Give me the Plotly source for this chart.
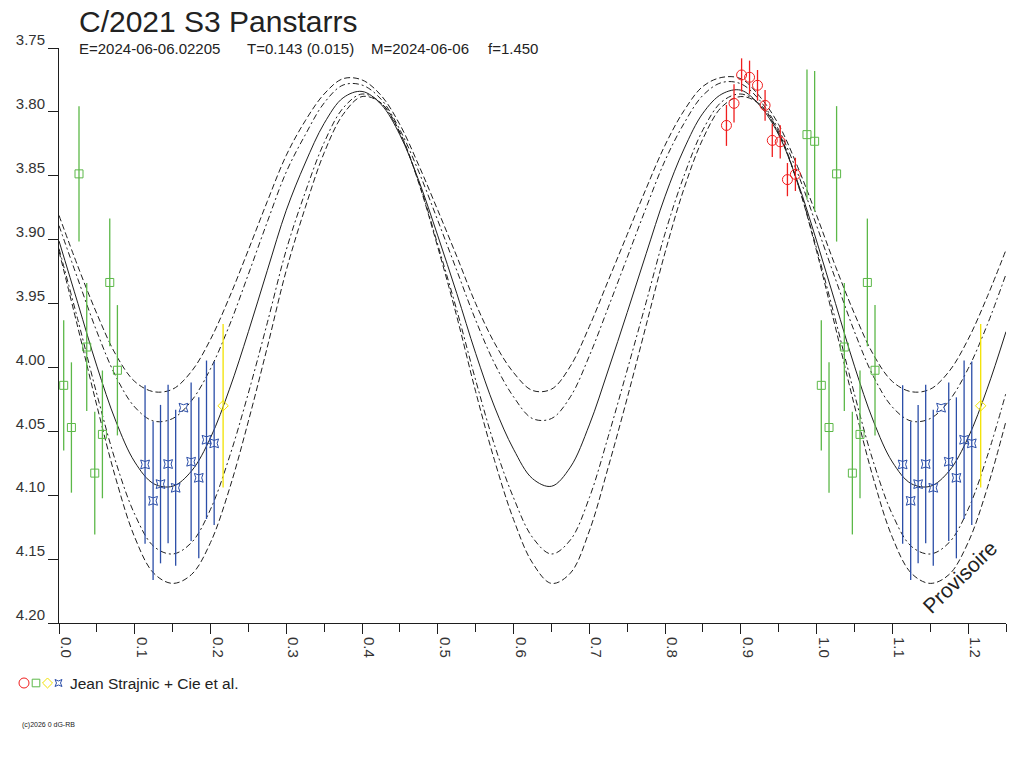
import plotly.graph_objects as go

# ---------------------------------------------------------------------------
# data (phase, magnitude)
# ---------------------------------------------------------------------------

PHASE = [0.000, 0.025, 0.050, 0.075, 0.100, 0.125, 0.150, 0.175, 0.200, 0.225,
         0.250, 0.275, 0.300, 0.325, 0.350, 0.375, 0.400, 0.425, 0.450, 0.475,
         0.500, 0.525, 0.550, 0.575, 0.600, 0.625, 0.650, 0.675, 0.700, 0.725,
         0.750, 0.775, 0.800, 0.825, 0.850, 0.875, 0.900, 0.925, 0.950, 0.975,
         1.000]

FIT = [3.901, 3.950, 3.999, 4.042, 4.074, 4.091, 4.093, 4.081, 4.055, 4.017,
       3.972, 3.924, 3.877, 3.840, 3.809, 3.789, 3.784, 3.794, 3.818, 3.854,
       3.897, 3.942, 3.989, 4.031, 4.064, 4.087, 4.093, 4.078, 4.045, 4.002,
       3.957, 3.911, 3.866, 3.829, 3.801, 3.786, 3.783, 3.795, 3.818, 3.855,
       3.901]

# 1-sigma band (dash-dot)
FIT_HI1 = [3.889, 3.931, 3.972, 4.007, 4.031, 4.042, 4.040, 4.026, 4.001, 3.967,
           3.927, 3.886, 3.847, 3.818, 3.793, 3.779, 3.779, 3.790, 3.814, 3.847,
           3.885, 3.924, 3.963, 3.997, 4.023, 4.040, 4.040, 4.023, 3.991, 3.953,
           3.914, 3.875, 3.838, 3.809, 3.787, 3.777, 3.778, 3.791, 3.814, 3.848,
           3.889]
FIT_LO1 = [3.907, 3.963, 4.021, 4.074, 4.115, 4.140, 4.146, 4.137, 4.111, 4.070,
           4.020, 3.965, 3.908, 3.863, 3.824, 3.797, 3.786, 3.793, 3.817, 3.855,
           3.904, 3.955, 4.010, 4.061, 4.102, 4.133, 4.146, 4.135, 4.102, 4.054,
           4.002, 3.949, 3.895, 3.850, 3.814, 3.792, 3.786, 3.794, 3.817, 3.856,
           3.907]

# 2-sigma band (dashed)
FIT_HI2 = [3.881, 3.921, 3.958, 3.990, 4.011, 4.019, 4.017, 4.003, 3.978, 3.945,
           3.908, 3.870, 3.834, 3.807, 3.786, 3.774, 3.775, 3.787, 3.810, 3.842,
           3.877, 3.913, 3.950, 3.981, 4.004, 4.018, 4.017, 3.999, 3.968, 3.932,
           3.896, 3.860, 3.826, 3.799, 3.780, 3.773, 3.774, 3.788, 3.810, 3.843,
           3.881]
FIT_LO2 = [3.909, 3.969, 4.030, 4.087, 4.133, 4.161, 4.169, 4.162, 4.137, 4.095,
           4.042, 3.984, 3.924, 3.875, 3.832, 3.802, 3.788, 3.793, 3.816, 3.856,
           3.906, 3.960, 4.019, 4.073, 4.119, 4.153, 4.169, 4.161, 4.128, 4.078,
           4.024, 3.967, 3.910, 3.860, 3.821, 3.796, 3.788, 3.794, 3.816, 3.856,
           3.909]

RED_PHASE = [0.881, 0.891, 0.901, 0.9115, 0.922, 0.932, 0.9415, 0.952, 0.9615, 0.972]
RED_MAG = [3.8106, 3.7933, 3.7711, 3.7729, 3.7792, 3.7949, 3.8223, 3.8234, 3.8530, 3.8489]
RED_ERR = [0.016, 0.015, 0.013, 0.013, 0.012, 0.012, 0.013, 0.013, 0.013, 0.013]

GREEN_PHASE = [0.0062, 0.0164, 0.0264, 0.0366, 0.0472, 0.0573, 0.0670, 0.0771, 0.9873, 0.9974]
GREEN_MAG = [4.014, 4.047, 3.8485, 3.984, 4.0827, 4.0524, 3.9335, 4.0022, 3.8178, 3.8230]
GREEN_ERR = [0.051, 0.051, 0.053, 0.050, 0.048, 0.050, 0.050, 0.051, 0.051, 0.055]

YELLOW_PHASE = [0.2166]
YELLOW_MAG = [4.030]
YELLOW_ERR = [0.064]

BLUE_PHASE = [0.1136, 0.1242, 0.1340, 0.1440, 0.1540, 0.1643, 0.1744, 0.1845, 0.1947, 0.2048]
BLUE_MAG = [4.0759, 4.1044, 4.0913, 4.0756, 4.0942, 4.0315, 4.0738, 4.0864, 4.0566, 4.0594]
BLUE_ERR = [0.062, 0.062, 0.062, 0.062, 0.061, 0.0, 0.062, 0.063, 0.062, 0.064]

X_MAX = 1.25
Y_TICKS = [3.75, 3.80, 3.85, 3.90, 3.95, 4.00, 4.05, 4.10, 4.15, 4.20]

TITLE = "C/2021 S3 Panstarrs"
SUBTITLE = ["E=2024-06-06.02205", "T=0.143 (0.015)", "M=2024-06-06", "f=1.450"]
OBSERVERS = "Jean Strajnic + Cie et al."

RED = "#f01e1e"
GREEN = "#5cb848"
YELLOW = "#f2e200"
BLUE = "#2b4ea8"
INK = "#1e1e1e"
FONT = "Liberation Sans, Arial, sans-serif"

# the page body adds an 8px margin around the figure
PAGE_OFFSET = 8
# plot area in page pixels
PL, PR, PT, PB = 59, 1006, 48, 623
W, H = 1024, 768


def paper_x(px):
    return (px - PL) / (PR - PL)


def paper_y(py):
    return (PB - py) / (PB - PT)


def wrap(phase, values):
    """Repeat the start of the cycle past phase 1.0, as in the original plot."""
    xs = list(phase)
    ys = list(values)
    for p, v in zip(phase, values):
        if 0 < p and p + 1 <= X_MAX + 1e-9 and p + 1 not in xs:
            xs.append(p + 1)
            ys.append(v)
    return xs, ys


fig = go.Figure()

# --- model curves ---
curves = [
    (FIT_HI2, "6px,3px"),
    (FIT_LO2, "6px,3px"),
    (FIT_HI1, "6px,3px,2px,3px"),
    (FIT_LO1, "6px,3px,2px,3px"),
    (FIT, "solid"),
]
for values, dash in curves:
    xs, ys = wrap(PHASE, values)
    fig.add_trace(go.Scatter(
        x=xs, y=ys, mode="lines",
        line=dict(color=INK, width=1, dash=dash, shape="spline"),
        hoverinfo="skip",
    ))

# --- observations ---
groups = [
    (GREEN_PHASE, GREEN_MAG, GREEN_ERR, GREEN, "square-open", 8),
    (BLUE_PHASE, BLUE_MAG, BLUE_ERR, BLUE, "star-square-open", 8),
    (YELLOW_PHASE, YELLOW_MAG, YELLOW_ERR, YELLOW, "diamond-open", 8),
    (RED_PHASE, RED_MAG, RED_ERR, RED, "circle-open", 10),
]
for ph, mag, err, color, symbol, size in groups:
    xs, ys = wrap(ph, mag)
    _, es = wrap(ph, err)
    fig.add_trace(go.Scatter(
        x=xs, y=ys, mode="markers",
        marker=dict(symbol=symbol, size=size, color=color, line=dict(width=1, color=color)),
        error_y=dict(type="data", array=es, visible=True, width=0,
                     thickness=1.3, color=color),
    ))

axis_common = dict(
    showline=True, linecolor=INK, linewidth=1, showgrid=False, zeroline=False,
    ticks="outside", ticklen=10, tickcolor=INK, tickwidth=1, automargin=False,
    tickfont=dict(family=FONT, size=15, color="#333333"),
)

o = PAGE_OFFSET
fig.update_layout(
    width=W, height=H,
    margin=dict(l=PL - o, r=W - (PR - o), t=PT - o, b=H - (PB - o), autoexpand=False),
    paper_bgcolor="white", plot_bgcolor="white",
    showlegend=False,
    font=dict(family=FONT, color="#222222"),
    xaxis=dict(
        range=[0, X_MAX], tick0=0, dtick=0.1, tickformat=".1f", tickangle=90,
        ticklabelshift=7,
        minor=dict(dtick=0.05, ticks="outside", ticklen=8, tickcolor=INK),
        **axis_common,
    ),
    yaxis=dict(
        range=[4.20, 3.75], tickmode="array", tickvals=Y_TICKS,
        ticktext=[f"{v:.2f}" for v in Y_TICKS],
        ticklabelshift=8,
        **axis_common,
    ),
)

# --- legend symbols (drawn as shapes in page pixels) ---
LEGEND_Y = 683


def box(cx, cy, half):
    return dict(x0=paper_x(cx - half), x1=paper_x(cx + half),
                y0=paper_y(cy + half), y1=paper_y(cy - half))


def path(points):
    return "M " + " L ".join(f"{paper_x(x):.5f},{paper_y(y):.5f}" for x, y in points) + " Z"


shapes = [
    dict(type="circle", line=dict(color=RED, width=1), **box(24, LEGEND_Y, 5)),
    dict(type="rect", line=dict(color=GREEN, width=1), **box(36, LEGEND_Y, 3.8)),
    dict(type="path", line=dict(color=YELLOW, width=1),
         path=path([(47.5, LEGEND_Y - 5), (52.5, LEGEND_Y), (47.5, LEGEND_Y + 5), (42.5, LEGEND_Y)])),
    dict(type="path", line=dict(color=BLUE, width=1),
         path=path([(55, LEGEND_Y - 3.5), (58.5, LEGEND_Y - 2), (62, LEGEND_Y - 3.5),
                    (60.5, LEGEND_Y), (62, LEGEND_Y + 3.5), (58.5, LEGEND_Y + 2),
                    (55, LEGEND_Y + 3.5), (56.5, LEGEND_Y)])),
]
for s in shapes:
    s.update(xref="paper", yref="paper", layer="above")
fig.update_layout(shapes=shapes)

annotations = [
    dict(text=TITLE, x=paper_x(77), y=paper_y(22), xanchor="left", yanchor="middle",
         font=dict(size=30, color="#222222", family=FONT)),
    dict(text=OBSERVERS, x=paper_x(68), y=paper_y(683), xanchor="left", yanchor="middle",
         font=dict(size=15.5, color="#222222", family=FONT)),
    dict(text="(c)2026 0 dG-RB", x=paper_x(20), y=paper_y(725), xanchor="left",
         yanchor="middle", font=dict(size=7, color="#222222", family=FONT)),
    dict(text="Provisoire", x=paper_x(959), y=paper_y(577), xanchor="center",
         yanchor="middle", textangle=-44, font=dict(size=21, color="#222222", family=FONT)),
]
for text, left in zip(SUBTITLE, [77, 245, 369, 486]):
    annotations.append(dict(text=text, x=paper_x(left), y=paper_y(49), xanchor="left",
                            yanchor="middle", font=dict(size=15, color="#222222", family=FONT)))
for a in annotations:
    a.update(xref="paper", yref="paper", showarrow=False)
fig.update_layout(annotations=annotations)

fig.write_html("out.html")
